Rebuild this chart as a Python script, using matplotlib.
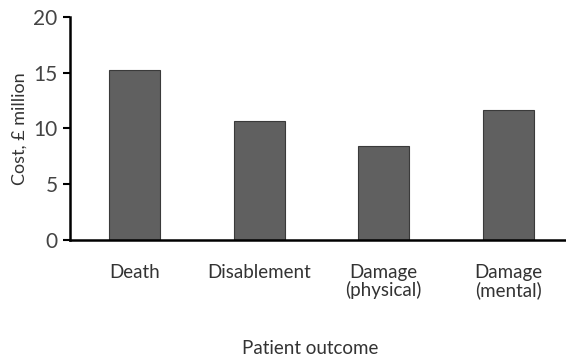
import matplotlib
matplotlib.use("Agg")
import matplotlib.pyplot as plt

# Chart data
categories = ["Death", "Disablement", "Damage\n(physical)", "Damage\n(mental)"]
cost = [15.25, 10.67, 8.46, 11.69]
y_ticks = [0, 5, 10, 15, 20]

plt.rcParams['font.family'] = ['Lato', 'DejaVu Sans']
text_col = '#333333'

fig = plt.figure(figsize=(5.66, 3.58), dpi=100)
ax = fig.add_axes([0.1237, 0.3296, 0.875, 0.623])

x = list(range(len(categories)))
ax.bar(x, cost, width=0.41, color='#606060', edgecolor='#3a3a3a', linewidth=0.8, zorder=2)

ax.set_xlim(-0.52, 3.46)
ax.set_ylim(0, 20)
ax.set_yticks(y_ticks)
ax.set_xticks(x)
ax.set_xticklabels(categories, fontsize=13.5, color=text_col, linespacing=1.05)
ax.tick_params(axis='x', length=0, pad=17)
ax.tick_params(axis='y', length=5, width=1.5, direction='out', pad=4,
               labelsize=15, labelcolor='#444444')

for side in ['top', 'right']:
    ax.spines[side].set_visible(False)
for side in ['left', 'bottom']:
    ax.spines[side].set_linewidth(1.8)
    ax.spines[side].set_color('black')

ax.set_ylabel('Cost, £ million', fontsize=13, color=text_col)
ax.yaxis.set_label_coords(-0.085, 0.5)
ax.set_xlabel('Patient outcome', fontsize=13.5, color=text_col)
ax.xaxis.set_label_coords(0.485, -0.45)

fig.savefig("out.png", dpi=100)
